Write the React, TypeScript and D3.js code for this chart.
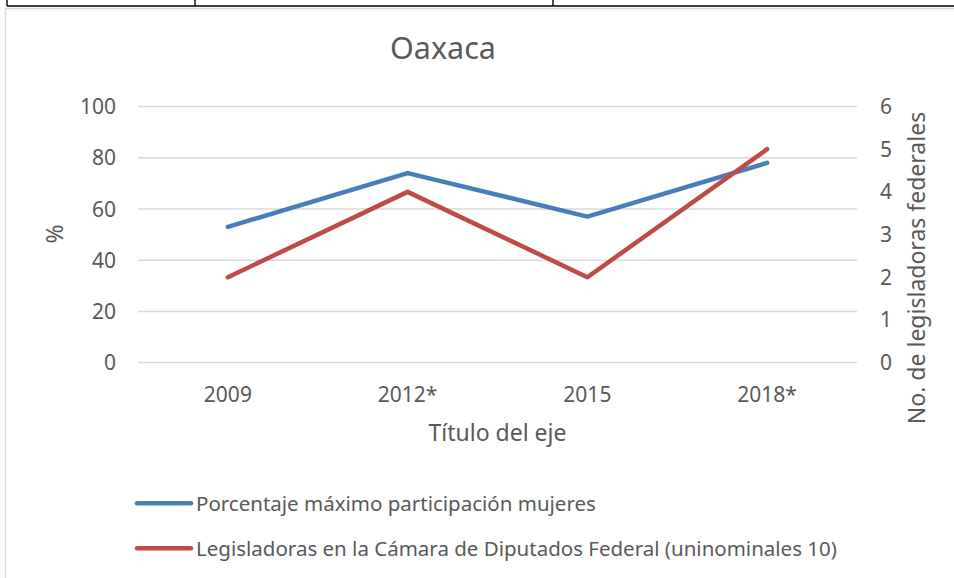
import React from "react";
import * as d3 from "d3";

const years = ["2009", "2012*", "2015", "2018*"];
const maxWomenPct = [53, 74, 57, 78];
const federalLegislators = [2, 4, 2, 5];
const leftTicks = [0, 20, 40, 60, 80, 100];
const rightTicks = [0, 1, 2, 3, 4, 5, 6];

const seriesNames = [
  "Porcentaje máximo participación mujeres",
  "Legisladoras en la Cámara de Diputados Federal (uninominales 10)",
];
const seriesColors = ["#4A7EBB", "#BE4B48"];

const W = 954;
const H = 578;
const FONT = "'Noto Sans', 'Open Sans', sans-serif";
const TEXT = "#595959";
const GRID = "#D9D9D9";

// plot box
const plot = { left: 138, right: 857, top: 106.5, bottom: 362.6 };

export default function App() {
  const x = d3
    .scaleBand<string>()
    .domain(years)
    .range([plot.left, plot.right])
    .padding(0);
  const yLeft = d3.scaleLinear().domain([0, 100]).range([plot.bottom, plot.top]);
  const yRight = d3.scaleLinear().domain([0, 6]).range([plot.bottom, plot.top]);

  const cx = (d: string) => (x(d) ?? 0) + x.bandwidth() / 2;

  const lineLeft = d3
    .line<number>()
    .x((_, i) => cx(years[i]))
    .y((d) => yLeft(d));
  const lineRight = d3
    .line<number>()
    .x((_, i) => cx(years[i]))
    .y((d) => yRight(d));

  const paths = [lineLeft(maxWomenPct) ?? "", lineRight(federalLegislators) ?? ""];

  return (
    <div style={{ position: "absolute", left: 0, top: 0 }}>
      <svg width={W} height={H} style={{ display: "block", background: "white" }}>
        {/* table lines above the chart */}
        <line x1={7} x2={W} y1={6} y2={6} stroke="#000" strokeWidth={1.6} />
        {[7, 195, 553].map((lx) => (
          <line key={lx} x1={lx} x2={lx} y1={0} y2={6} stroke="#000" strokeWidth={1.4} />
        ))}
        {/* chart area frame */}
        <rect x={5.5} y={8.5} width={W + 10} height={H + 10} fill="none" stroke={GRID} strokeWidth={1.5} />

        <text
          x={443}
          y={59}
          textAnchor="middle"
          fontFamily={FONT}
          fontSize={30.5}
          fill={TEXT}
        >
          Oaxaca
        </text>

        {/* gridlines */}
        <g>
          {leftTicks.map((t) => (
            <line
              key={t}
              x1={plot.left}
              x2={plot.right}
              y1={yLeft(t)}
              y2={yLeft(t)}
              stroke={GRID}
              strokeWidth={1.5}
            />
          ))}
        </g>

        {/* left axis */}
        <g fontFamily={FONT} fontSize={21} fill={TEXT}>
          {leftTicks.map((t) => (
            <text key={t} x={116} y={yLeft(t)} dy="0.36em" textAnchor="end">
              {t}
            </text>
          ))}
        </g>
        <text
          transform={`translate(${63},${234}) rotate(-90)`}
          textAnchor="middle"
          fontFamily={FONT}
          fontSize={23}
          fill={TEXT}
        >
          %
        </text>

        {/* right axis */}
        <g fontFamily={FONT} fontSize={21} fill={TEXT}>
          {rightTicks.map((t) => (
            <text key={t} x={880} y={yRight(t)} dy="0.36em" textAnchor="start">
              {t}
            </text>
          ))}
        </g>
        <text
          transform={`translate(${925},${268}) rotate(-90)`}
          textAnchor="middle"
          fontFamily={FONT}
          fontSize={23}
          fill={TEXT}
        >
          No. de legisladoras federales
        </text>

        {/* category axis */}
        <g fontFamily={FONT} fontSize={21} fill={TEXT}>
          {years.map((yr) => (
            <text key={yr} x={cx(yr)} y={401.5} textAnchor="middle">
              {yr}
            </text>
          ))}
        </g>
        <text
          x={(plot.left + plot.right) / 2}
          y={441}
          textAnchor="middle"
          fontFamily={FONT}
          fontSize={23}
          fill={TEXT}
        >
          Título del eje
        </text>

        {/* series */}
        {paths.map((p, i) => (
          <path
            key={i}
            d={p}
            fill="none"
            stroke={seriesColors[i]}
            strokeWidth={4.5}
            strokeLinecap="round"
            strokeLinejoin="round"
          />
        ))}

        {/* legend */}
        <g fontFamily={FONT} fontSize={20.5} fill={TEXT}>
          {seriesNames.map((name, i) => {
            const ly = 503.3 + i * 45;
            return (
              <g key={name}>
                <line
                  x1={137}
                  x2={191}
                  y1={ly}
                  y2={ly}
                  stroke={seriesColors[i]}
                  strokeWidth={4.5}
                  strokeLinecap="round"
                />
                <text x={196} y={ly} dy="0.36em">
                  {name}
                </text>
              </g>
            );
          })}
        </g>
      </svg>
    </div>
  );
}
